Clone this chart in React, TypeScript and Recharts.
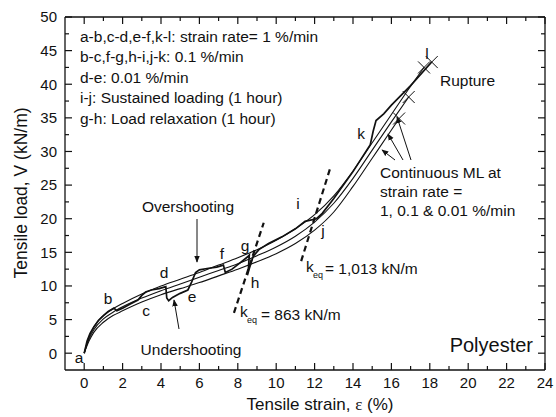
import { ComposedChart, Line, Scatter, XAxis, YAxis, ReferenceLine } from 'recharts';

/* ── Layout ─────────────────────────────────────────────────────────────── */

const W = 556;
const H = 417;
const MARGIN = { top: 17, right: 11, bottom: 0, left: 0 };
const Y_AXIS_W = 65;
const X_AXIS_H = 47;
const PLOT_TOP = MARGIN.top;
const PLOT_RIGHT = W - MARGIN.right;
const X_TICK_MARGIN = 7;
const Y_TICK_MARGIN = 8;
const FONT = "'Liberation Sans', Arial, sans-serif";
const INK = '#111';

/* ── Axis ticks ─────────────────────────────────────────────────────────── */

const X_TICKS = [0, 1, 2, 3, 4, 5, 6, 7, 8, 9, 10, 11, 12, 13, 14, 15, 16, 17, 18, 19, 20, 21, 22, 23, 24];
const X_MAJOR = [0, 2, 4, 6, 8, 10, 12, 14, 16, 18, 20, 22, 24];
const Y_TICKS = [0, 2.5, 5, 7.5, 10, 12.5, 15, 17.5, 20, 22.5, 25, 27.5, 30, 32.5, 35, 37.5, 40, 42.5, 45, 47.5, 50];
const Y_MAJOR = [0, 5, 10, 15, 20, 25, 30, 35, 40, 45, 50];

/* ── Continuous ML curves (1, 0.1, 0.01 %/min) ──────────────────────────── */

const strainTop = [0, 0.25, 0.5, 1, 1.5, 2, 3, 4, 5, 6, 7, 8, 9, 10, 11, 12, 13, 14, 15, 16, 17, 17.7];
const loadTop   = [0, 2.4, 3.9, 5.6, 6.6, 7.4, 8.8, 10.0, 11.0, 12.0, 13.1, 14.2, 15.4, 16.8, 18.5, 20.6, 23.4, 27.1, 31.3, 35.5, 39.7, 42.5];

const strainMid = [0, 0.25, 0.5, 1, 1.5, 2, 3, 4, 5, 6, 7, 8, 9, 10, 11, 12, 13, 14, 15, 16, 16.9];
const loadMid   = [0, 2.1, 3.5, 5.1, 6.1, 6.9, 8.2, 9.3, 10.3, 11.3, 12.3, 13.3, 14.5, 15.8, 17.4, 19.5, 22.3, 26.0, 30.2, 34.4, 38.1];

const strainLow = [0, 0.25, 0.5, 1, 1.5, 2, 3, 4, 5, 6, 7, 8, 9, 10, 11, 12, 13, 14, 15, 16, 16.4];
const loadLow   = [0, 1.8, 3.1, 4.6, 5.6, 6.3, 7.6, 8.7, 9.6, 10.5, 11.5, 12.5, 13.6, 14.8, 16.3, 18.3, 21.0, 24.8, 29.0, 33.2, 34.9];

/* ── Multi-stage test a → l ─────────────────────────────────────────────── */

const strainMulti = [
  0, 0.15, 0.3, 0.5, 0.75, 1, 1.25, 1.55,          // a-b
  1.7, 2, 2.4, 2.8,                                 // b-c
  3.0, 3.2, 3.5, 3.9, 4.25,                         // c-d
  4.3, 4.4, 4.6, 5.0, 5.4,                          // d-e
  5.6, 5.8, 6.0, 6.4, 6.9, 7.25,                    // e-f
  7.35, 7.7, 8.1, 8.5, 8.6,                         // f-g
  8.55, 8.5,                                        // g-h
  8.6, 8.8, 9.1, 9.6, 10.3, 11.0, 11.5,             // h-i
  12.1,                                             // i-j
  12.4, 13.0, 14.0, 14.9,                           // j-k
  15.05, 15.2, 15.6, 16.0, 17.0, 18.1,              // k-l
];
const loadMulti = [
  0, 1.8, 2.9, 3.9, 4.9, 5.6, 6.2, 6.7,
  6.3, 6.7, 7.3, 7.9,
  8.6, 9.1, 9.4, 9.6, 9.9,
  8.2, 7.8, 8.3, 8.9, 9.4,
  10.6, 12.0, 12.4, 12.6, 12.8, 13.1,
  12.0, 12.5, 13.4, 14.3, 14.6,
  12.5, 11.6,
  12.6, 14.4, 15.4, 16.3, 17.3, 18.5, 19.6,
  20.0,
  20.8, 23.0, 27.0, 31.0,
  33.0, 34.6, 35.6, 36.9, 39.8, 43.3,
];

/* ── Rupture marks and k_eq tangents ────────────────────────────────────── */

const ruptureStrain = [18.1, 17.7, 16.9, 16.4];
const ruptureLoad   = [43.3, 42.5, 38.1, 34.9];

const keq863Strain  = [7.8, 9.35];
const keq863Load    = [6.0, 19.4];
const keq1013Strain = [11.3, 12.8];
const keq1013Load   = [13.7, 27.4];

const pts = (xs: number[], ys: number[]) => xs.map((x, i) => ({ x, y: ys[i] }));

const topData     = pts(strainTop, loadTop);
const midData     = pts(strainMid, loadMid);
const lowData     = pts(strainLow, loadLow);
const multiData   = pts(strainMulti, loadMulti);
const ruptureData = pts(ruptureStrain, ruptureLoad);
const keq863Data  = pts(keq863Strain, keq863Load);
const keq1013Data = pts(keq1013Strain, keq1013Load);

/* ── Custom ticks (inward, mirrored on top/right) ───────────────────────── */

function BottomTick({ x, y, payload }: any) {
  const major = X_MAJOR.includes(payload.value);
  const len = major ? 7 : 4;
  const axisY = y - X_TICK_MARGIN;
  return (
    <g>
      <line x1={x} x2={x} y1={axisY} y2={axisY - len} stroke={INK} strokeWidth={1.2} />
      <line x1={x} x2={x} y1={PLOT_TOP} y2={PLOT_TOP + len} stroke={INK} strokeWidth={1.2} />
      {major && (
        <text x={x} y={y} dy="0.71em" textAnchor="middle" fontSize={15} fontFamily={FONT} fill={INK}>
          {payload.value}
        </text>
      )}
    </g>
  );
}

function LeftTick({ x, y, payload }: any) {
  const major = Y_MAJOR.includes(payload.value);
  const len = major ? 7 : 4;
  const axisX = x + Y_TICK_MARGIN;
  return (
    <g>
      <line x1={axisX} x2={axisX + len} y1={y} y2={y} stroke={INK} strokeWidth={1.2} />
      <line x1={PLOT_RIGHT} x2={PLOT_RIGHT - len} y1={y} y2={y} stroke={INK} strokeWidth={1.2} />
      {major && (
        <text x={x} y={y} dy="0.355em" textAnchor="end" fontSize={15} fontFamily={FONT} fill={INK}>
          {payload.value}
        </text>
      )}
    </g>
  );
}

function XMark({ cx, cy }: any) {
  const s = 6;
  return (
    <g stroke={INK} strokeWidth={1}>
      <line x1={cx - s} y1={cy + s} x2={cx + s} y2={cy - s} />
      <line x1={cx - s} y1={cy - s} x2={cx + s} y2={cy + s} />
    </g>
  );
}

/* ── Annotations ─────────────────────────────────────────────────────────── */

const LEGEND_LINES = [
  'a-b,c-d,e-f,k-l: strain rate= 1 %/min',
  'b-c,f-g,h-i,j-k: 0.1 %/min',
  'd-e: 0.01 %/min',
  'i-j: Sustained loading (1 hour)',
  'g-h: Load relaxation (1 hour)',
];

const POINT_LABELS: [string, number, number][] = [
  ['a', 79, 357], ['b', 108, 298], ['c', 146, 310], ['d', 164, 272],
  ['e', 192, 296], ['f', 222, 253], ['g', 245, 245], ['h', 255, 282],
  ['i', 298, 203], ['j', 323, 230], ['k', 361, 133], ['l', 427, 53],
];

function Annotations() {
  const t = { fontFamily: FONT, fontSize: 15.5, fill: INK, dominantBaseline: 'central' as const };
  return (
    <svg width={W} height={H} style={{ position: 'absolute', left: 0, top: 0, pointerEvents: 'none' }}>
      <defs>
        <marker id="arr" viewBox="0 0 10 10" refX="9" refY="5" markerWidth="7" markerHeight="7" orient="auto">
          <path d="M0,1 L10,5 L0,9 z" fill={INK} />
        </marker>
      </defs>

      {LEGEND_LINES.map((s, i) => (
        <text key={s} x={80} y={36 + i * 20.5} {...t}>{s}</text>
      ))}

      {POINT_LABELS.map(([s, x, y]) => (
        <text key={s} x={x} y={y} textAnchor="middle" {...t}>{s}</text>
      ))}

      <text x={188} y={206} textAnchor="middle" {...t}>Overshooting</text>
      <line x1={197} y1={219} x2={197} y2={262} stroke={INK} strokeWidth={1} markerEnd="url(#arr)" />

      <text x={191} y={349} textAnchor="middle" {...t}>Undershooting</text>
      <line x1={179} y1={329} x2={174} y2={300} stroke={INK} strokeWidth={1} markerEnd="url(#arr)" />

      <text x={440} y={80} {...t}>Rupture</text>

      <text x={380} y={172} {...t}>Continuous ML at</text>
      <text x={380} y={191} {...t}>strain rate =</text>
      <text x={380} y={210} {...t}>1, 0.1 &amp; 0.01 %/min</text>
      <line x1={411} y1={160} x2={397} y2={117} stroke={INK} strokeWidth={1} markerEnd="url(#arr)" />
      <line x1={403} y1={160} x2={388} y2={134} stroke={INK} strokeWidth={1} markerEnd="url(#arr)" />
      <line x1={395} y1={160} x2={382} y2={150} stroke={INK} strokeWidth={1} markerEnd="url(#arr)" />

      <text x={306} y={266} {...t}>k</text>
      <text x={313} y={275} fontFamily={FONT} fontSize={9} fill={INK} dominantBaseline="central">eq</text>
      <text x={325} y={268} {...t}>= 1,013 kN/m</text>

      <text x={240} y={311} {...t}>k</text>
      <text x={247} y={320} fontFamily={FONT} fontSize={9} fill={INK} dominantBaseline="central">eq</text>
      <text x={261} y={314} {...t}>= 863 kN/m</text>

      <text x={533} y={345} textAnchor="end" {...t} fontSize={20}>Polyester</text>

      <text x={320} y={404} textAnchor="middle" {...t} fontSize={17}>
        Tensile strain, <tspan fontFamily="'Liberation Serif', serif">ε</tspan> (%)
      </text>
      <text
        x={21}
        y={193}
        textAnchor="middle"
        transform="rotate(-90 21 193)"
        {...t}
        fontSize={17.5}
      >
        Tensile load, V (kN/m)
      </text>
    </svg>
  );
}

/* ── Chart ───────────────────────────────────────────────────────────────── */

export default function App() {
  return (
    <div style={{ position: 'absolute', left: 0, top: 0, width: W, height: H, background: '#fff' }}>
      <ComposedChart width={W} height={H} margin={MARGIN}>
        <XAxis
          type="number"
          dataKey="x"
          domain={[-1, 24]}
          ticks={X_TICKS}
          interval={0}
          height={X_AXIS_H}
          tickSize={0}
          tickMargin={X_TICK_MARGIN}
          tickLine={false}
          axisLine={{ stroke: INK, strokeWidth: 1.3 }}
          tick={BottomTick}
          allowDataOverflow
        />
        <YAxis
          type="number"
          dataKey="y"
          domain={[-2.5, 50]}
          ticks={Y_TICKS}
          interval={0}
          width={Y_AXIS_W}
          tickSize={0}
          tickMargin={Y_TICK_MARGIN}
          tickLine={false}
          axisLine={{ stroke: INK, strokeWidth: 1.3 }}
          tick={LeftTick}
          allowDataOverflow
        />
        <ReferenceLine x={24} stroke={INK} strokeWidth={1.3} />
        <ReferenceLine y={50} stroke={INK} strokeWidth={1.3} />

        <Line data={topData} dataKey="y" type="monotone" stroke={INK} strokeWidth={1.1} dot={false} isAnimationActive={false} />
        <Line data={midData} dataKey="y" type="monotone" stroke={INK} strokeWidth={1.1} dot={false} isAnimationActive={false} />
        <Line data={lowData} dataKey="y" type="monotone" stroke={INK} strokeWidth={1.1} dot={false} isAnimationActive={false} />
        <Line data={multiData} dataKey="y" type="linear" stroke={INK} strokeWidth={1.7} dot={false} isAnimationActive={false} />

        <Line data={keq863Data} dataKey="y" type="linear" stroke={INK} strokeWidth={2.2} strokeDasharray="6 4" dot={false} isAnimationActive={false} />
        <Line data={keq1013Data} dataKey="y" type="linear" stroke={INK} strokeWidth={2.2} strokeDasharray="6 4" dot={false} isAnimationActive={false} />

        <Scatter data={ruptureData} dataKey="y" shape={XMark} isAnimationActive={false} />
      </ComposedChart>
      <Annotations />
    </div>
  );
}
